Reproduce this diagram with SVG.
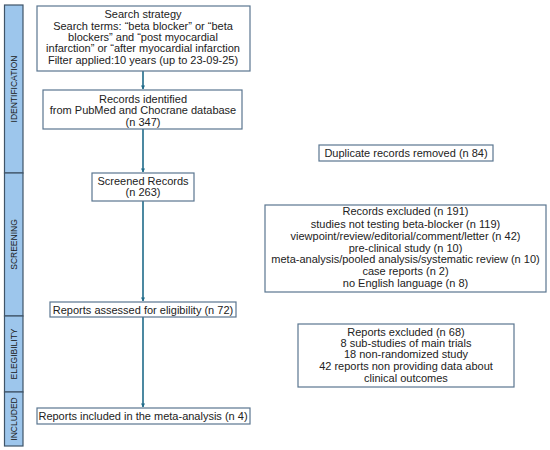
<svg xmlns="http://www.w3.org/2000/svg" width="550" height="450" viewBox="0 0 550 450">
<defs>
<style>
.bar{fill:#9dc6ec;stroke:#3f5468;stroke-width:1.2}
.box{fill:#ffffff;stroke:#5a7690;stroke-width:1.2}
.t{font-family:"Liberation Sans",Arial,sans-serif;font-size:11px;fill:#222;text-anchor:middle}
.side{font-family:"Liberation Sans",Arial,sans-serif;font-size:8.5px;fill:#1a1a1a;text-anchor:middle}
.arr{stroke:#1f6b8a;stroke-width:1.6;fill:none}
</style>
<marker id="ah" viewBox="0 0 10 10" refX="9" refY="5" markerWidth="4" markerHeight="4" orient="auto" markerUnits="userSpaceOnUse">
<path d="M0,0 L10,5 L0,10 z" fill="#1f6b8a"/>
</marker>
</defs>
<rect width="550" height="450" fill="#ffffff"/>
<g id="phases">
<g id="phase-identification"><rect class="bar" x="4.5" y="5" width="18.5" height="168"/><text class="side" transform="translate(16.5,89) rotate(-90)">IDENTIFICATION</text></g>
<g id="phase-screening"><rect class="bar" x="4.5" y="173" width="18.5" height="143"/><text class="side" transform="translate(16.5,244.5) rotate(-90)">SCREENING</text></g>
<g id="phase-eligibility"><rect class="bar" x="4.5" y="316" width="18.5" height="76"/><text class="side" transform="translate(16.5,354) rotate(-90)">ELEGIBILITY</text></g>
<g id="phase-included"><rect class="bar" x="4.5" y="392" width="18.5" height="54"/><text class="side" transform="translate(16.5,419) rotate(-90)">INCLUDED</text></g>
</g>
<g id="connectors">
<line class="arr" x1="143" y1="71" x2="143" y2="89" marker-end="url(#ah)"/>
<line class="arr" x1="143" y1="129" x2="143" y2="172" marker-end="url(#ah)"/>
<line class="arr" x1="143" y1="201" x2="143" y2="301" marker-end="url(#ah)"/>
<line class="arr" x1="143" y1="317" x2="143" y2="407" marker-end="url(#ah)"/>
</g>
<g id="search">
<rect class="box" x="37" y="6" width="213" height="65"/>
<text class="t" x="143" y="18">Search strategy</text>
<text class="t" x="143" y="29.5">Search terms: “beta blocker” or “beta</text>
<text class="t" x="143" y="40.5">blockers” and “post myocardial</text>
<text class="t" x="143" y="52">infarction” or “after myocardial infarction</text>
<text class="t" x="143" y="63.5">Filter applied:10 years (up to 23-09-25)</text>
</g>
<g id="identified">
<rect class="box" x="43" y="90" width="199" height="39"/>
<text class="t" x="143" y="102.5">Records identified</text>
<text class="t" x="143" y="114">from  PubMed and Chocrane database</text>
<text class="t" x="143" y="125.5">(n 347)</text>
</g>
<g id="screened">
<rect class="box" x="92" y="173" width="102" height="28"/>
<text class="t" x="143" y="184.5">Screened Records</text>
<text class="t" x="143" y="196">(n 263)</text>
</g>
<g id="assessed">
<rect class="box" x="50" y="302" width="186" height="15"/>
<text class="t" x="143" y="313.5">Reports assessed for eligibility (n 72)</text>
</g>
<g id="included">
<rect class="box" x="37" y="408" width="213" height="16"/>
<text class="t" x="143" y="420">Reports included in the meta-analysis (n 4)</text>
</g>
<g id="duplicates">
<rect class="box" x="319" y="145" width="174" height="16"/>
<text class="t" x="406" y="157">Duplicate records removed (n 84)</text>
</g>
<g id="records-excluded">
<rect class="box" x="265" y="205" width="281" height="87"/>
<text class="t" x="405.5" y="215">Records excluded (n 191)</text>
<text class="t" x="405.5" y="227.5">studies not testing beta-blocker (n 119)</text>
<text class="t" x="405.5" y="239.5">viewpoint/review/editorial/comment/letter (n 42)</text>
<text class="t" x="405.5" y="251.5">pre-clinical study (n 10)</text>
<text class="t" x="405.5" y="263">meta-analysis/pooled analysis/systematic review (n 10)</text>
<text class="t" x="405.5" y="275">case reports (n 2)</text>
<text class="t" x="405.5" y="287">no English language (n 8)</text>
</g>
<g id="reports-excluded">
<rect class="box" x="298" y="324" width="216" height="63"/>
<text class="t" x="406" y="336">Reports excluded (n 68)</text>
<text class="t" x="406" y="347">8 sub-studies of main trials</text>
<text class="t" x="406" y="358">18 non-randomized study</text>
<text class="t" x="406" y="370">42 reports non providing data about</text>
<text class="t" x="406" y="381.5">clinical outcomes</text>
</g>
</svg>
